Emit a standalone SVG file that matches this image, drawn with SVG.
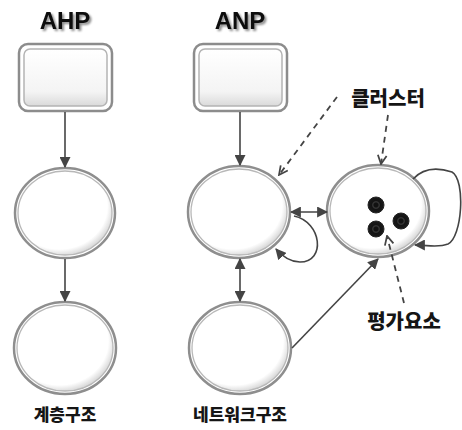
<svg xmlns="http://www.w3.org/2000/svg" width="462" height="430" viewBox="0 0 462 430">
  <defs>
    <style>
      .title { font-family: "Liberation Sans", Arial, sans-serif; font-weight: bold; font-size: 24px; fill: #111; text-anchor: middle; }
      .label { font-family: "Noto Sans CJK KR", "Noto Sans", sans-serif; font-weight: 900; font-size: 17px; fill: #151515; text-anchor: middle; }
      .label-lg { font-size: 20px; }
      .box-outer { fill: #ffffff; stroke: #8c8c8c; stroke-width: 2.5; }
      .box-inner { fill: url(#boxFill); stroke: #b4b4b4; stroke-width: 1.5; }
      .ring-outer { fill: none; stroke: #8e8e8e; stroke-width: 2.5; }
      .ring-inner { fill: url(#ballFill); stroke: #b8b8b8; stroke-width: 1.3; }
      .link { fill: none; stroke: #444; stroke-width: 1.6; }
      .dash { fill: none; stroke: #444; stroke-width: 1.8; stroke-dasharray: 6 5; }
      .dot { stroke: #222; stroke-width: 1; }
    </style>
    <linearGradient id="boxFill" x1="0" y1="0" x2="0" y2="1">
      <stop offset="0" stop-color="#ffffff"/>
      <stop offset="0.75" stop-color="#f4f4f4"/>
      <stop offset="1" stop-color="#dadada"/>
    </linearGradient>
    <radialGradient id="ballFill" cx="0.44" cy="0.42" r="0.6">
      <stop offset="0" stop-color="#ffffff"/>
      <stop offset="0.85" stop-color="#ffffff"/>
      <stop offset="1" stop-color="#d4d4d4"/>
    </radialGradient>
    <radialGradient id="dotFill" cx="0.5" cy="0.5" r="0.5">
      <stop offset="0" stop-color="#111"/>
      <stop offset="0.25" stop-color="#111"/>
      <stop offset="0.4" stop-color="#3a3a3a"/>
      <stop offset="0.55" stop-color="#131313"/>
      <stop offset="1" stop-color="#1a1a1a"/>
    </radialGradient>
    <filter id="textShadow" x="-10%" y="-20%" width="130%" height="150%">
      <feGaussianBlur in="SourceAlpha" stdDeviation="1.2"/>
      <feOffset dx="1.5" dy="1.5" result="s"/>
      <feComponentTransfer><feFuncA type="linear" slope="0.45"/></feComponentTransfer>
      <feMerge><feMergeNode/><feMergeNode in="SourceGraphic"/></feMerge>
    </filter>
    <marker id="arrow" viewBox="0 0 10 10" refX="9" refY="5" markerWidth="11" markerHeight="11" markerUnits="userSpaceOnUse" orient="auto-start-reverse">
      <path d="M0,0 L10,5 L0,10 Z" fill="#444"/>
    </marker>
    <marker id="chevron" viewBox="0 0 10 10" refX="9" refY="5" markerWidth="11" markerHeight="11" markerUnits="userSpaceOnUse" orient="auto">
      <path d="M1,1 L9,5 L1,9" fill="none" stroke="#444" stroke-width="1.6"/>
    </marker>
  </defs>

  <rect width="462" height="430" fill="#ffffff"/>

  <!-- column titles -->
  <text class="title" x="65" y="29" filter="url(#textShadow)">AHP</text>
  <text class="title" x="240" y="29" filter="url(#textShadow)">ANP</text>

  <!-- AHP column -->
  <g id="ahp-goal">
    <rect class="box-outer" x="19" y="44" width="93" height="67" rx="9"/>
    <rect class="box-inner" x="24" y="49" width="83" height="57" rx="6"/>
  </g>
  <g id="ahp-level1">
    <ellipse class="ring-inner" cx="65" cy="213" rx="47" ry="42"/>
    <ellipse class="ring-outer" cx="65" cy="213" rx="50" ry="45"/>
  </g>
  <g id="ahp-level2">
    <ellipse class="ring-inner" cx="65" cy="348" rx="48" ry="43"/>
    <ellipse class="ring-outer" cx="65" cy="348" rx="51" ry="46"/>
  </g>
  <text class="label" x="65" y="421">계층구조</text>

  <!-- ANP column -->
  <g id="anp-goal">
    <rect class="box-outer" x="194" y="44" width="93" height="67" rx="9"/>
    <rect class="box-inner" x="199" y="49" width="83" height="57" rx="6"/>
  </g>
  <g id="anp-cluster-a">
    <ellipse class="ring-inner" cx="239" cy="212" rx="48" ry="43"/>
    <ellipse class="ring-outer" cx="239" cy="212" rx="51" ry="46"/>
  </g>
  <g id="anp-cluster-b">
    <ellipse class="ring-inner" cx="378" cy="211" rx="48" ry="43"/>
    <ellipse class="ring-outer" cx="378" cy="211" rx="51" ry="46"/>
    <circle class="dot" cx="376" cy="205" r="8" fill="url(#dotFill)"/>
    <circle class="dot" cx="401" cy="221" r="8" fill="url(#dotFill)"/>
    <circle class="dot" cx="376" cy="229" r="8" fill="url(#dotFill)"/>
  </g>
  <g id="anp-cluster-c">
    <ellipse class="ring-inner" cx="240" cy="348" rx="48" ry="43"/>
    <ellipse class="ring-outer" cx="240" cy="348" rx="51" ry="46"/>
  </g>
  <text class="label" x="240" y="421">네트워크구조</text>
  <text class="label label-lg" x="388" y="106">클러스터</text>
  <text class="label label-lg" x="404" y="329">평가요소</text>

  <!-- connectors -->
  <g id="connectors">
    <line class="link" x1="65" y1="112" x2="65" y2="167" marker-end="url(#arrow)"/>
    <line class="link" x1="65" y1="259" x2="65" y2="301" marker-end="url(#arrow)"/>
    <line class="link" x1="240" y1="112" x2="240" y2="165" marker-end="url(#arrow)"/>
    <line class="link" x1="240" y1="259" x2="240" y2="301" marker-start="url(#arrow)" marker-end="url(#arrow)"/>
    <line class="link" x1="291" y1="212" x2="327" y2="212" marker-start="url(#arrow)" marker-end="url(#arrow)"/>
    <path class="link" d="M294,216 C322,222 326,262 300,262 C290,262 282,256 276,249" marker-end="url(#arrow)"/>
    <path class="link" d="M413,179 C425,166 440,168 452,172 C466,180 462,238 448,244 C438,248 428,245 415,245" marker-end="url(#arrow)"/>
    <line class="link" x1="292" y1="348" x2="378" y2="259" marker-end="url(#arrow)"/>
    <line class="dash" x1="337" y1="97" x2="279" y2="175" marker-end="url(#chevron)"/>
    <line class="dash" x1="388" y1="115" x2="381" y2="164" marker-end="url(#chevron)"/>
    <line class="dash" x1="404" y1="303" x2="387" y2="236" marker-end="url(#chevron)"/>
  </g>
</svg>
